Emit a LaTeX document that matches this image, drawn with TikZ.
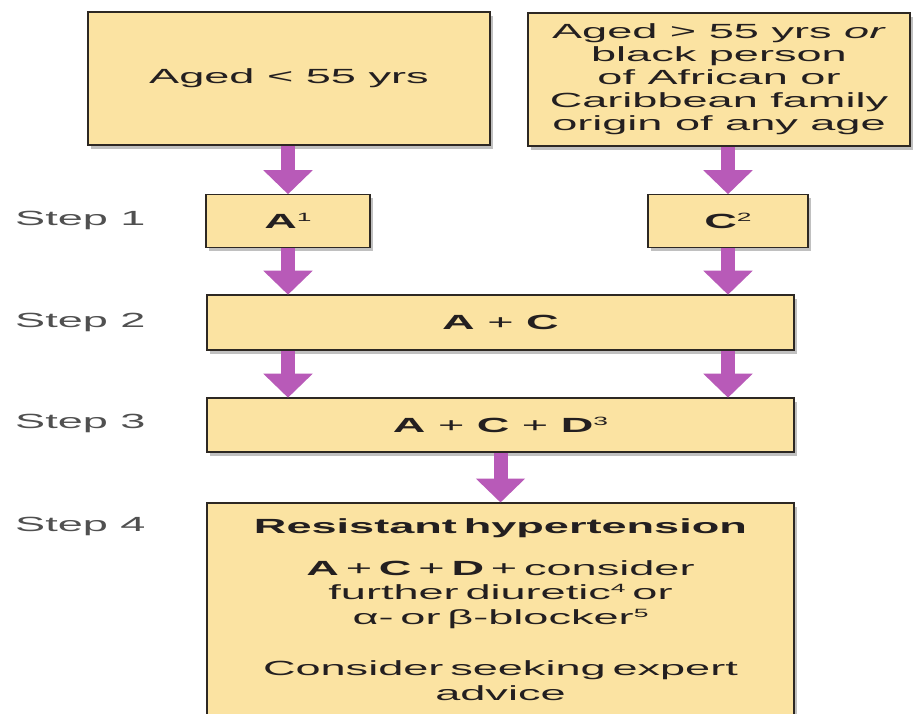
\documentclass[tikz,border=0pt]{standalone}
\usepackage{fontspec}
\setmainfont{Liberation Sans}[FakeStretch=2.2]
\usetikzlibrary{arrows.meta,shadows}
\definecolor{boxfill}{RGB}{251,227,162}
\definecolor{boxline}{RGB}{45,40,35}
\definecolor{arrowcol}{RGB}{184,90,184}
\definecolor{txt}{RGB}{35,31,32}
\definecolor{steptxt}{RGB}{80,80,80}
\newcommand{\mysup}[1]{\raisebox{7pt}{\fontsize{12}{12}\selectfont\mdseries #1}}
\tikzset{
  flowbox/.style={draw=boxline, line width=1.6pt, fill=boxfill, text=txt,
    align=center, inner sep=0pt,
    drop shadow={shadow xshift=3pt, shadow yshift=-4pt, opacity=0.35, fill=black!70}},
  steplabel/.style={anchor=west, text=steptxt, inner sep=0pt},
  flowarrow/.style={draw=arrowcol, line width=14pt,
    -{Triangle[width=48pt,length=24pt]}, shorten >=-0.5pt},
}
\begin{document}
\begin{tikzpicture}[x=1pt, y=-1pt, font=\fontsize{20.5}{23}\selectfont]
\useasboundingbox (0,0) rectangle (914,714);
\fill[white] (0,0) rectangle (914,714);
% top boxes
\node[flowbox, minimum width=402pt, minimum height=133pt] (young) at (289,78.5) {Aged < 55 yrs};
\node[flowbox, minimum width=382pt, minimum height=133pt] (old) at (719,79.5)
  {Aged > 55 yrs \textit{or}\\ black person\\ of African or\\ Caribbean family\\ origin of any age};
% step 1
\node[flowbox, minimum width=164pt, minimum height=53pt] (a) at (288,221) {\textbf{A}\mysup{1}};
\node[flowbox, minimum width=160pt, minimum height=53pt] (c) at (728,221) {\textbf{C}\mysup{2}};
% step 2, 3
\node[flowbox, minimum width=587pt, minimum height=55pt] (s2) at (500.5,322.5) {\textbf{A {\mdseries +} C}};
\node[flowbox, minimum width=587pt, minimum height=54pt] (s3) at (500.5,425) {\textbf{A {\mdseries +} C {\mdseries +} D}\mysup{3}};
% step 4
\node[flowbox, anchor=north, text width=587pt, minimum width=587pt, inner ysep=16pt,
      font=\fontsize{20.5}{24.5}\selectfont] (s4) at (500.5,502)
  {\textbf{Resistant hypertension}\\[17pt]
   \textbf{A {\mdseries +} C {\mdseries +} D} + consider\\
   further diuretic\mysup{4} or\\
   α- or β-blocker\mysup{5}\\[27pt]
   Consider seeking expert\\ advice\\[30pt]};
% step labels
\node[steplabel] (l1) at (15,220) {Step 1};
\node[steplabel] (l2) at (15,322) {Step 2};
\node[steplabel] (l3) at (15,423) {Step 3};
\node[steplabel] (l4) at (15,526) {Step 4};
% arrows
\draw[flowarrow] (young.south -| a.north) -- (a.north);
\draw[flowarrow] (old.south -| c.north) -- (c.north);
\draw[flowarrow] (a.south) -- (a.south |- s2.north);
\draw[flowarrow] (c.south) -- (c.south |- s2.north);
\draw[flowarrow] (s2.south -| a.south) -- (s3.north -| a.south);
\draw[flowarrow] (s2.south -| c.south) -- (s3.north -| c.south);
\draw[flowarrow] (s3.south -| s4.north) -- (s4.north);
\end{tikzpicture}
\end{document}
